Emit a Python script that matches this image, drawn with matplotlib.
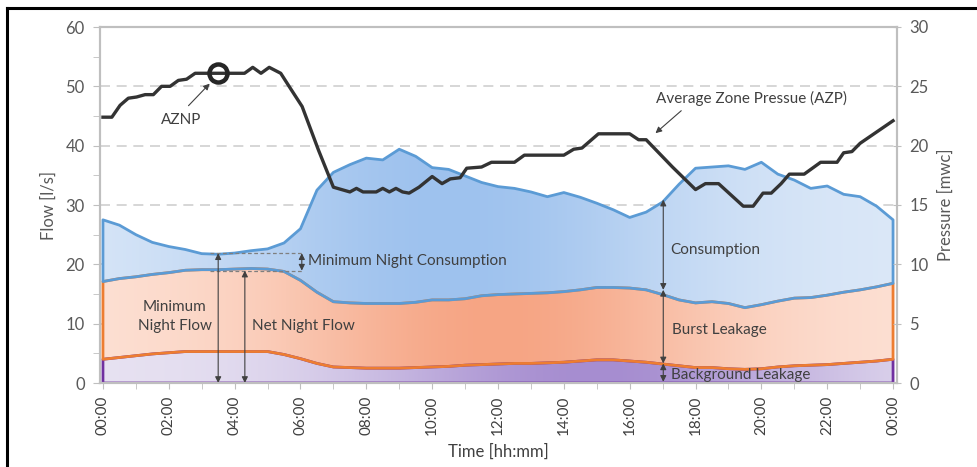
import numpy as np
import matplotlib
matplotlib.use("Agg")
import matplotlib.pyplot as plt
import matplotlib.ticker as mticker
from matplotlib.colors import to_rgb
from matplotlib.lines import Line2D

plt.rcParams["font.family"] = ["Lato", "DejaVu Sans"]

# ── Data ──────────────────────────────────────────────────────────────────────
hours = np.arange(0, 24.5, 0.5)

# stacked levels [l/s]
background_top = [4.0, 4.3, 4.6, 4.9, 5.1, 5.3, 5.3, 5.3, 5.3, 5.3, 5.3, 4.8, 4.1,
                  3.3, 2.7, 2.6, 2.5, 2.5, 2.5, 2.6, 2.7, 2.8, 3.0, 3.1, 3.2, 3.3,
                  3.3, 3.4, 3.5, 3.7, 3.9, 3.9, 3.7, 3.5, 3.2, 2.9, 2.6, 2.6, 2.4,
                  2.3, 2.4, 2.7, 2.9, 3.0, 3.1, 3.3, 3.5, 3.7, 4.0]
burst_top = [17.1, 17.6, 17.9, 18.3, 18.6, 19.0, 19.1, 19.1, 19.2, 19.3, 19.2, 18.8,
             17.3, 15.3, 13.7, 13.5, 13.4, 13.4, 13.4, 13.6, 14.0, 14.0, 14.2, 14.7,
             14.9, 15.0, 15.1, 15.2, 15.4, 15.7, 16.1, 16.1, 16.0, 15.7, 14.9, 14.0,
             13.5, 13.7, 13.4, 12.7, 13.2, 13.8, 14.3, 14.4, 14.8, 15.3, 15.7, 16.2, 16.8]
total_flow = [27.5, 26.6, 25.0, 23.7, 23.0, 22.5, 21.8, 21.7, 21.9, 22.3, 22.6, 23.6,
              26.0, 32.5, 35.5, 36.8, 37.9, 37.6, 39.4, 38.2, 36.3, 36.0, 34.9, 33.8,
              33.1, 32.8, 32.2, 31.4, 32.1, 31.3, 30.3, 29.2, 27.9, 28.8, 30.5, 33.5,
              36.2, 36.4, 36.6, 36.0, 37.2, 35.2, 34.2, 32.8, 33.2, 31.8, 31.4, 29.8, 27.5]

# average zone pressure [mwc]
p_hours = [0, 0.27, 0.52, 0.77, 1.02, 1.28, 1.53, 1.78, 2.04, 2.29, 2.54, 2.8, 3.15,
           4.3, 4.55, 4.8, 5.05, 5.4, 5.7, 6.05, 6.55, 7.0, 7.25, 7.5, 7.7, 7.9, 8.3,
           8.5, 8.7, 8.9, 9.1, 9.3, 9.6, 10.0, 10.3, 10.55, 10.85, 11.05, 11.5, 11.8,
           12.5, 12.8, 14.0, 14.3, 14.55, 15.05, 16.0, 16.27, 16.5, 17.3, 18.0, 18.3,
           18.7, 19.45, 19.75, 20.05, 20.3, 20.6, 20.85, 21.3, 21.8, 22.3, 22.5,
           22.75, 23.0, 24.0]
pressure = [22.4, 22.4, 23.4, 24.0, 24.1, 24.3, 24.3, 25.0, 25.0, 25.5, 25.6, 26.1, 26.1,
            26.1, 26.6, 26.1, 26.6, 26.1, 24.8, 23.3, 19.6, 16.5, 16.3, 16.1, 16.4, 16.1,
            16.1, 16.4, 16.1, 16.4, 16.1, 16.0, 16.5, 17.4, 16.8, 17.2, 17.3, 18.1, 18.2,
            18.6, 18.6, 19.2, 19.2, 19.7, 19.8, 21.0, 21.0, 20.5, 20.5, 18.2, 16.3, 16.8,
            16.8, 14.9, 14.9, 16.0, 16.0, 16.8, 17.6, 17.6, 18.6, 18.6, 19.4, 19.5,
            20.2, 22.1]

aznp_hour, aznp = 3.5, 26.1

tick_hours = np.arange(0, 25, 2)
tick_labels = [f"{h % 24:02d}:00" for h in tick_hours]

TXT = "#404040"
GREY = "#595959"
XMIN, XMAX = -0.09, 24.12
FS = 11


def gradient_fill(ax, x, lo, hi, edge, mid, centre, width, z):
    poly = ax.fill_between(x, lo, hi, facecolor="none", edgecolor="none")
    xs = np.linspace(XMIN, XMAX, 400)
    t = np.exp(-((xs - centre) / width) ** 2)[:, None]
    rgb = np.array(to_rgb(edge)) * (1 - t) + np.array(to_rgb(mid)) * t
    img = ax.imshow(rgb[None, :, :], extent=[XMIN, XMAX, 0, 60], aspect="auto",
                    origin="lower", zorder=z, interpolation="bilinear")
    img.set_clip_path(poly.get_paths()[0], transform=ax.transData)


fig = plt.figure(figsize=(9.78, 4.67), dpi=100)
ax = fig.add_axes([100 / 978, 84 / 467, 797 / 978, 356 / 467])
zeros = np.zeros_like(hours)

# ── Stacked gradient areas ────────────────────────────────────────────────────
gradient_fill(ax, hours, zeros, background_top, "#e8e3f2", "#a68dd0", 15.0, 7.5, 1)
gradient_fill(ax, hours, background_top, burst_top, "#fde2d6", "#f6a584", 12.0, 7.0, 1)
gradient_fill(ax, hours, burst_top, total_flow, "#dde9f8", "#9ec2ee", 10.5, 7.5, 1)

ax.fill_between(hours, zeros, background_top, facecolor="none", edgecolor="#7030a0", lw=2, zorder=2)
ax.fill_between(hours, background_top, burst_top, facecolor="none", edgecolor="#ed7d31", lw=2, zorder=3)
ax.fill_between(hours, burst_top, total_flow, facecolor="none", edgecolor="#5b9bd5", lw=2, zorder=4)

ax.set_xlim(XMIN, XMAX)
ax.set_ylim(0, 60)
ax.yaxis.set_major_locator(mticker.MultipleLocator(10))
ax.yaxis.set_minor_locator(mticker.MultipleLocator(5))
ax.set_xticks(tick_hours)
ax.set_xticklabels(tick_labels, rotation=90)
ax.xaxis.set_minor_locator(mticker.MultipleLocator(1))
for y in range(10, 60, 10):
    ax.axhline(y, color="#d0d0d0", lw=1.2, ls=(0, (6, 4)), zorder=0)

for s in ax.spines.values():
    s.set_color("#bfbfbf")
    s.set_linewidth(1.5)
ax.tick_params(axis="y", which="both", direction="out", length=5, color="#bfbfbf",
               labelcolor=GREY, labelsize=12, pad=6)
ax.tick_params(axis="x", which="both", direction="out", length=4, color="#bfbfbf",
               labelcolor=TXT, labelsize=11, pad=5)
ax.set_ylabel("Flow [l/s]", fontsize=12, color=GREY, labelpad=6)
ax.set_xlabel("Time [hh:mm]", fontsize=12, color=TXT, labelpad=6)

# ── Pressure line (secondary axis) ───────────────────────────────────────────
ax2 = ax.twinx()
ax2.set_ylim(0, 30)
ax2.set_xlim(XMIN, XMAX)
ax2.plot(p_hours, pressure, color="#333333", lw=2.4, zorder=5)
ax2.plot(aznp_hour, aznp, "o", mfc="none", mec="#262626", ms=13, mew=3.2, zorder=6)
ax2.yaxis.set_major_locator(mticker.MultipleLocator(5))
for s in ax2.spines.values():
    s.set_color("#bfbfbf")
    s.set_linewidth(1.5)
ax2.tick_params(axis="y", direction="inout", length=6, color="#bfbfbf",
                labelcolor=GREY, labelsize=12, pad=6)
ax2.set_ylabel("Pressure [mwc]", fontsize=12, color=GREY, labelpad=6)

# ── Annotations ──────────────────────────────────────────────────────────────
arr = dict(arrowstyle="-|>", color=TXT, lw=0.8, mutation_scale=9)
dbl = dict(arrowstyle="<|-|>", color=TXT, lw=0.8, mutation_scale=9, shrinkA=0, shrinkB=0)

ax2.annotate("", xy=(3.3, 25.4), xytext=(2.54, 23.2), arrowprops=arr)
ax2.text(2.38, 22.2, "AZNP", fontsize=FS, color=TXT, ha="center", va="center")
ax2.annotate("", xy=(16.72, 20.9), xytext=(17.63, 23.1), arrowprops=arr)
ax2.text(16.8, 24.0, "Average Zone Pressue (AZP)", fontsize=FS, color=TXT,
         ha="left", va="center")

for y in (21.87, 18.94):
    ax.plot([3.25, 6.08], [y, y], color="#7f7f7f", lw=0.9, ls=(0, (3, 2)), zorder=5)
ax.annotate("", xy=(6.04, 21.87), xytext=(6.04, 18.94), arrowprops=dbl, zorder=6)
ax.text(6.23, 20.5, "Minimum Night Consumption", fontsize=FS, color=TXT,
        ha="left", va="center", zorder=6)

ax.annotate("", xy=(3.5, 21.87), xytext=(3.5, 0), arrowprops=dbl, zorder=6)
ax.text(3.3, 11.2, "Minimum\nNight Flow", fontsize=FS, color=TXT, ha="right",
        va="center", multialignment="center", linespacing=1.5, zorder=6)
ax.annotate("", xy=(4.31, 18.94), xytext=(4.31, 0), arrowprops=dbl, zorder=6)
ax.text(4.52, 9.6, "Net Night Flow", fontsize=FS, color=TXT, ha="left",
        va="center", zorder=6)

ax.annotate("", xy=(17.02, 30.9), xytext=(17.02, 15.7), arrowprops=dbl, zorder=6)
ax.annotate("", xy=(17.02, 15.7), xytext=(17.02, 3.3), arrowprops=dbl, zorder=6)
ax.annotate("", xy=(17.02, 3.3), xytext=(17.02, 0.2), arrowprops=dbl, zorder=6)
ax.text(17.22, 22.4, "Consumption", fontsize=FS, color=TXT, ha="left", va="center", zorder=6)
ax.text(17.3, 8.9, "Burst Leakage", fontsize=FS, color=TXT, ha="left", va="center", zorder=6)
ax.text(17.27, 1.35, "Background Leakage", fontsize=FS, color=TXT, ha="left",
        va="center", zorder=6)

# frame lines along top and left of the figure
fig.add_artist(Line2D([7 / 978, 1], [1 - 8 / 467] * 2, transform=fig.transFigure,
                      color="black", lw=2.2))
fig.add_artist(Line2D([7 / 978] * 2, [0, 1 - 8 / 467], transform=fig.transFigure,
                      color="black", lw=2.2))

fig.savefig("out.png", dpi=100)
